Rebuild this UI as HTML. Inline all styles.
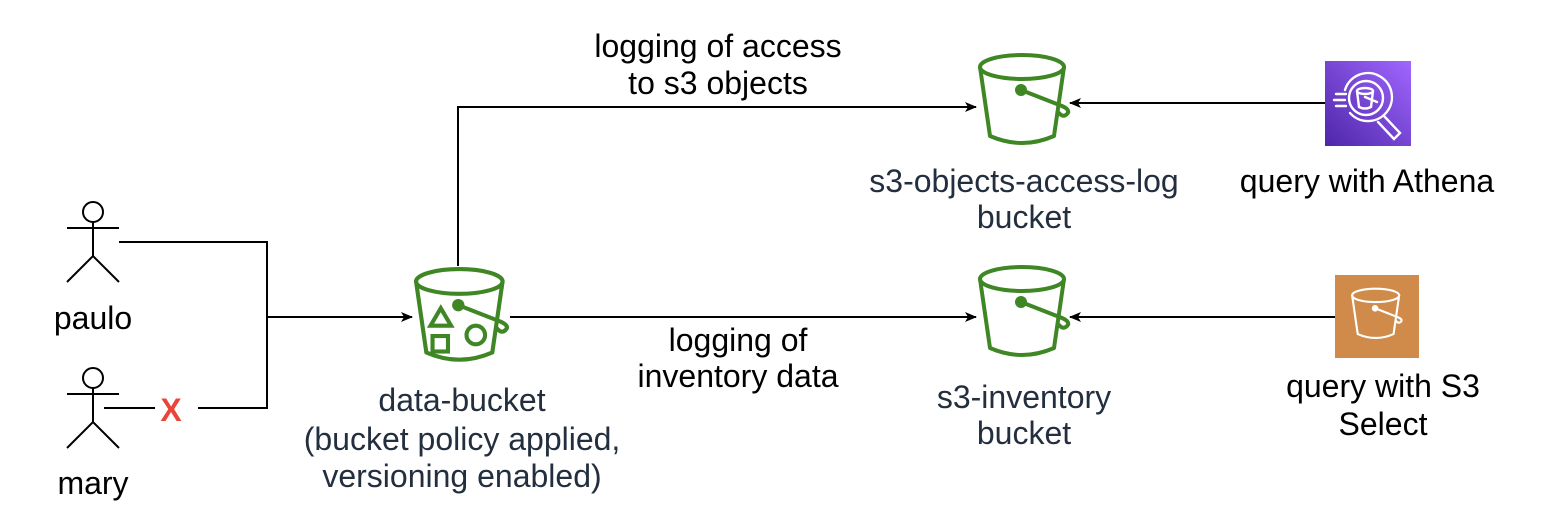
<!DOCTYPE html>
<html><head><style>
html,body{margin:0;padding:0;background:#fff;}
svg{display:block;}
text{font-family:"Liberation Sans",Arial,sans-serif;font-size:32px;text-anchor:middle;}
</style></head><body>
<svg width="1552" height="530" viewBox="0 0 1552 530" xmlns="http://www.w3.org/2000/svg">
<defs>
<marker id="ar" markerWidth="12" markerHeight="10" refX="11" refY="5" orient="auto" markerUnits="userSpaceOnUse">
<path d="M0,0 L12,5 L0,10 L3,5 Z" fill="#000"/>
</marker>
<g id="bucket" fill="none" stroke-linecap="round" stroke-linejoin="round">
<ellipse cx="44" cy="15" rx="42" ry="12"/>
<path d="M2,15 L12,84 Q44,98 76,84 L86,15"/>
<circle cx="43" cy="38" r="4" fill="currentColor"/>
<path d="M43,38 L84,54 Q93,58 89,62 Q85,66 81,61"/>
</g>
</defs>

<g stroke="#000" stroke-width="2" fill="none">
<circle cx="93" cy="212" r="10" fill="#fff"/>
<line x1="67" y1="228" x2="119" y2="228"/>
<line x1="93" y1="222" x2="93" y2="256"/>
<path d="M67,282 L93,256 L119,282"/>
<circle cx="93" cy="378" r="10" fill="#fff"/>
<line x1="67" y1="394" x2="119" y2="394"/>
<line x1="93" y1="388" x2="93" y2="422"/>
<path d="M67,448 L93,422 L119,448"/>
</g>

<g stroke="#000" stroke-width="2" fill="none">
<path d="M119,242 H267 V317"/>
<path d="M104,408 H155"/>
<path d="M198,408 H267 V317"/>
<path d="M267,317 H412" marker-end="url(#ar)"/>
<path d="M458,266 V107 H976" marker-end="url(#ar)"/>
<path d="M1325,103 H1070" marker-end="url(#ar)"/>
<path d="M510,317 H976" marker-end="url(#ar)"/>
<path d="M1335,317 H1070" marker-end="url(#ar)"/>
</g>
<text x="171" y="421" fill="#E8463B" font-weight="bold" style="font-size:32px">X</text>

<g transform="translate(414,266) scale(1.03)" stroke="#3F8624" color="#3F8624" stroke-width="4">
<use href="#bucket"/>
<path d="M16,58 L26,41 L36,58 Z" fill="none"/>
<rect x="18" y="68" width="15" height="15" fill="none"/>
<circle cx="60" cy="67" r="9" fill="none"/>
</g>
<g transform="translate(978,52)" stroke="#3F8624" color="#3F8624" stroke-width="4"><use href="#bucket"/></g>
<g transform="translate(978,264)" stroke="#3F8624" color="#3F8624" stroke-width="4"><use href="#bucket"/></g>

<defs><linearGradient id="ag" x1="0" y1="1" x2="1" y2="0"><stop offset="0" stop-color="#4D27A8"/><stop offset="1" stop-color="#A166FF"/></linearGradient></defs>
<rect x="1325" y="61" width="86" height="85" fill="url(#ag)"/>
<g stroke="#fff" stroke-width="2.4" fill="none" stroke-linecap="round">
<path d="M1345,90 A24,24 0 1 1 1350,113"/>
<circle cx="1366" cy="98" r="17"/>
<path d="M1384,116 L1400,133 L1394,139 L1378,122"/>
<path d="M1336,94 H1346 M1334,100 H1345 M1336,106 H1346"/>
<ellipse cx="1365" cy="91" rx="8" ry="3"/>
<path d="M1357,91 L1359,107 Q1365,110 1371,107 L1373,91"/>
<path d="M1365,97 L1377,102"/>
</g>

<rect x="1335" y="275" width="84" height="83" fill="#D08B4B"/>
<g transform="translate(1351,287) scale(0.56)" stroke="#fff" color="#fff" stroke-width="3.8"><use href="#bucket"/></g>

<g fill="#000">
<text x="718" y="57">logging of access</text>
<text x="718" y="94">to s3 objects</text>
<text x="1367" y="192">query with Athena</text>
<text x="93" y="329">paulo</text>
<text x="93" y="494">mary</text>
<text x="738" y="351">logging of</text>
<text x="738" y="387">inventory data</text>
<text x="1383" y="397">query with S3</text>
<text x="1383" y="435">Select</text>
</g>
<g fill="#232F3E">
<text x="1024" y="192">s3-objects-access-log</text>
<text x="1024" y="228">bucket</text>
<text x="462" y="411">data-bucket</text>
<text x="462" y="450">(bucket policy applied,</text>
<text x="462" y="487">versioning enabled)</text>
<text x="1024" y="408">s3-inventory</text>
<text x="1024" y="444">bucket</text>
</g>
</svg>
</body></html>
